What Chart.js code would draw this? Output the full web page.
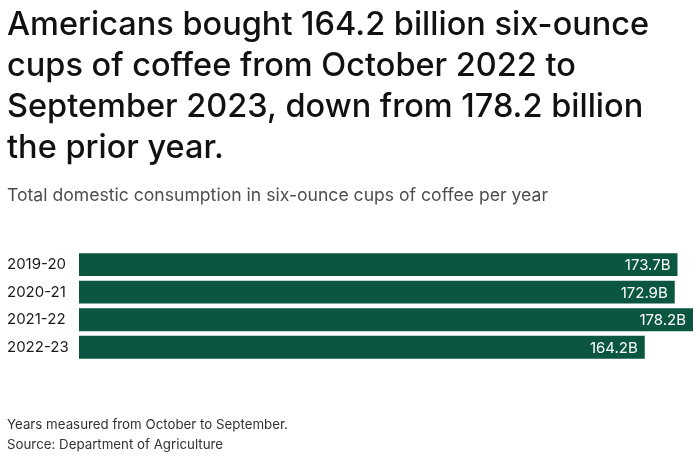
<!DOCTYPE html>
<html>
<head>
<meta charset="utf-8">
<script src="https://cdn.jsdelivr.net/npm/chart.js@4"></script>
<style>
  html, body { margin: 0; padding: 0; background: #ffffff; }
  #wrap { width: 700px; height: 461px; position: relative; }
</style>
</head>
<body>
<div id="wrap"><canvas id="c"></canvas></div>
<script>
const categories = ["2019-20", "2020-21", "2021-22", "2022-23"];
const cupsBillions = [173.7, 172.9, 178.2, 164.2];
const valueLabels = ["173.7B", "172.9B", "178.2B", "164.2B"];
const titleLines = [
  "Americans bought 164.2 billion six-ounce",
  "cups of coffee from October 2022 to",
  "September 2023, down from 178.2 billion",
  "the prior year."
];
const subtitleText = "Total domestic consumption in six-ounce cups of coffee per year";
const footerLines = [
  "Years measured from October to September.",
  "Source: Department of Agriculture"
];

const FONT = "Inter, 'Noto Sans', sans-serif";
const BAR_COLOR = "#0b5641";

const valueLabelPlugin = {
  id: "valueLabels",
  afterDatasetsDraw(chart) {
    const ctx = chart.ctx;
    const meta = chart.getDatasetMeta(0);
    ctx.save();
    ctx.font = "400 15px " + FONT;
    ctx.fillStyle = "#ffffff";
    ctx.textAlign = "right";
    ctx.textBaseline = "middle";
    meta.data.forEach((bar, i) => {
      ctx.fillText(valueLabels[i], bar.x - 7, bar.y + 1);
    });
    ctx.restore();
  }
};

const footerPlugin = {
  id: "footerNotes",
  afterDraw(chart) {
    const ctx = chart.ctx;
    ctx.save();
    ctx.font = "400 13.3px " + FONT;
    ctx.fillStyle = "#333333";
    ctx.textAlign = "left";
    ctx.textBaseline = "alphabetic";
    ctx.fillText(footerLines[0], 7, chart.height - 32);
    ctx.fillText(footerLines[1], 7, chart.height - 12);
    ctx.restore();
  }
};

new Chart(document.getElementById("c"), {
  type: "bar",
  data: {
    labels: categories,
    datasets: [{
      data: cupsBillions,
      backgroundColor: BAR_COLOR,
      borderWidth: 0,
      barPercentage: 0.83,
      categoryPercentage: 1.0
    }]
  },
  options: {
    indexAxis: "y",
    responsive: true,
    maintainAspectRatio: false,
    animation: false,
    layout: { padding: { left: 7, right: 7, top: 0, bottom: 100 } },
    plugins: {
      legend: { display: false },
      tooltip: { enabled: false },
      title: {
        display: true,
        text: titleLines,
        align: "start",
        color: "#111111",
        font: { family: FONT, size: 32.5, weight: "500", lineHeight: 1.262 },
        padding: { top: 5, bottom: 0 }
      },
      subtitle: {
        display: true,
        text: subtitleText,
        align: "start",
        color: "#4d4d4d",
        font: { family: FONT, size: 17.6, weight: "400", lineHeight: 1.2 },
        padding: { top: 16.5, bottom: 44.2 }
      }
    },
    scales: {
      x: {
        display: false,
        min: 0,
        max: 178.2
      },
      y: {
        grid: { display: false },
        border: { display: false },
        ticks: {
          crossAlign: "far",
          color: "#1a1a1a",
          font: { family: FONT, size: 15 },
          padding: 0
        },
        afterFit(scale) { scale.width = 72; }
      }
    }
  },
  plugins: [valueLabelPlugin, footerPlugin]
});
</script>
</body>
</html>
